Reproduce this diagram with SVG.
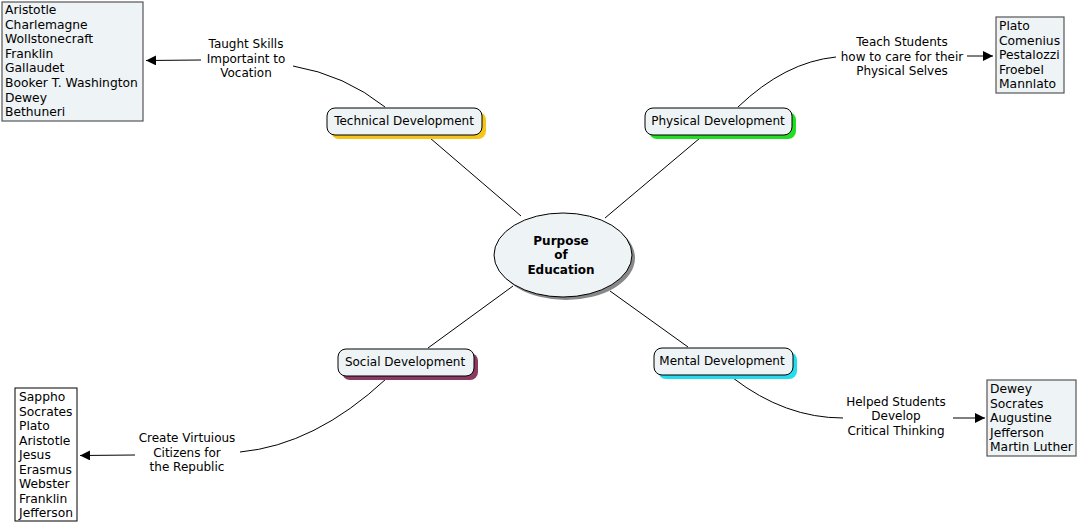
<svg xmlns="http://www.w3.org/2000/svg" width="1077" height="524" viewBox="0 0 1077 524">
<style>
text{font-family:"DejaVu Sans",Verdana,sans-serif;font-size:12px;fill:#000}
.c{text-anchor:middle}
.l{font-size:12.3px}
.node{fill:#eef3f5;stroke:#000;stroke-width:1}
.list{fill:#eef3f5;stroke:#555;stroke-width:1.2}
.conn{fill:none;stroke:#000;stroke-width:1}
.b{font-weight:bold}
</style>
<defs>
<marker id="arr" viewBox="0 0 10 10" refX="10" refY="5" markerWidth="10" markerHeight="10" markerUnits="userSpaceOnUse" orient="auto">
<path d="M0,0 L10,5 L0,10 z" fill="#000"/>
</marker>
</defs>
<rect width="1077" height="524" fill="#fff"/>
<g id="connectors">
<line class="conn" x1="430" y1="138" x2="521" y2="216"/>
<line class="conn" x1="700" y1="138" x2="605" y2="218"/>
<line class="conn" x1="513" y1="286" x2="428" y2="348"/>
<line class="conn" x1="610" y1="291" x2="688" y2="347"/>
<path class="conn" d="M385,107 Q345,75 293,66"/>
<line class="conn" x1="201" y1="60" x2="146" y2="60.5" marker-end="url(#arr)"/>
<path class="conn" d="M738,107 Q785,62 836,57"/>
<line class="conn" x1="967" y1="56" x2="993" y2="56" marker-end="url(#arr)"/>
<path class="conn" d="M386,379 Q315,445 240,452"/>
<line class="conn" x1="135" y1="455" x2="80" y2="455.5" marker-end="url(#arr)"/>
<path class="conn" d="M733,378 Q785,418 843,418"/>
<line class="conn" x1="953" y1="418" x2="985" y2="418" marker-end="url(#arr)"/>
</g>
<g id="center">
<ellipse cx="566" cy="258" rx="69" ry="42" fill="#888"/>
<ellipse cx="563" cy="255" rx="69" ry="42" class="node"/>
<text class="c b" x="561" y="245">Purpose</text>
<text class="c b" x="561" y="259">of</text>
<text class="c b" x="561" y="274">Education</text>
</g>
<g id="technical">
<rect x="331" y="112" width="155" height="27" rx="8" fill="#f5c518"/>
<rect x="327" y="108" width="155" height="27" rx="8" class="node"/>
<text class="c" x="404" y="125">Technical Development</text>
</g>
<g id="physical">
<rect x="649" y="112" width="147" height="27" rx="8" fill="#22dd22"/>
<rect x="645" y="108" width="147" height="27" rx="8" class="node"/>
<text class="c" x="718" y="125">Physical Development</text>
</g>
<g id="social">
<rect x="342" y="353" width="136" height="27" rx="8" fill="#8b3a62"/>
<rect x="338" y="349" width="136" height="27" rx="8" class="node"/>
<text class="c" x="405" y="366">Social Development</text>
</g>
<g id="mental">
<rect x="658" y="352" width="139" height="27" rx="8" fill="#22ddee"/>
<rect x="654" y="348" width="139" height="27" rx="8" class="node"/>
<text class="c" x="722" y="365">Mental Development</text>
</g>
<g id="label-technical">
<text class="c" x="246" y="48">Taught Skills</text>
<text class="c" x="246" y="63">Importaint to</text>
<text class="c" x="246" y="77">Vocation</text>
</g>
<g id="label-physical">
<text class="c" x="902" y="46">Teach Students</text>
<text class="c" x="902" y="61">how to care for their</text>
<text class="c" x="902" y="75">Physical Selves</text>
</g>
<g id="label-social">
<text class="c" x="187" y="442">Create Virtuious</text>
<text class="c" x="187" y="457">Citizens for</text>
<text class="c" x="187" y="471">the Republic</text>
</g>
<g id="label-mental">
<text class="c" x="896" y="406">Helped Students</text>
<text class="c" x="896" y="420">Develop</text>
<text class="c" x="896" y="435">Critical Thinking</text>
</g>
<g id="list-technical">
<rect x="2" y="2" width="141" height="119" class="list"/>
<text class="l" x="5" y="14">Aristotle</text>
<text class="l" x="5" y="29">Charlemagne</text>
<text class="l" x="5" y="43">Wollstonecraft</text>
<text class="l" x="5" y="58">Franklin</text>
<text class="l" x="5" y="72">Gallaudet</text>
<text class="l" x="5" y="87">Booker T. Washington</text>
<text class="l" x="5" y="102">Dewey</text>
<text class="l" x="5" y="116">Bethuneri</text>
</g>
<g id="list-physical">
<rect x="996" y="17" width="68" height="76" class="list"/>
<text class="l" x="999" y="30">Plato</text>
<text class="l" x="999" y="45">Comenius</text>
<text class="l" x="999" y="59">Pestalozzi</text>
<text class="l" x="999" y="74">Froebel</text>
<text class="l" x="999" y="88">Mannlato</text>
</g>
<g id="list-social">
<rect x="15" y="388" width="62" height="133" fill="#fff" stroke="#000" stroke-width="1"/>
<text class="l" x="19" y="401">Sappho</text>
<text class="l" x="19" y="416">Socrates</text>
<text class="l" x="19" y="430">Plato</text>
<text class="l" x="19" y="445">Aristotle</text>
<text class="l" x="19" y="459">Jesus</text>
<text class="l" x="19" y="474">Erasmus</text>
<text class="l" x="19" y="488">Webster</text>
<text class="l" x="19" y="503">Franklin</text>
<text class="l" x="19" y="517">Jefferson</text>
</g>
<g id="list-mental">
<rect x="987" y="380" width="89" height="76" class="list"/>
<text class="l" x="990" y="393">Dewey</text>
<text class="l" x="990" y="408">Socrates</text>
<text class="l" x="990" y="422">Augustine</text>
<text class="l" x="990" y="437">Jefferson</text>
<text class="l" x="990" y="451">Martin Luther</text>
</g>
</svg>
